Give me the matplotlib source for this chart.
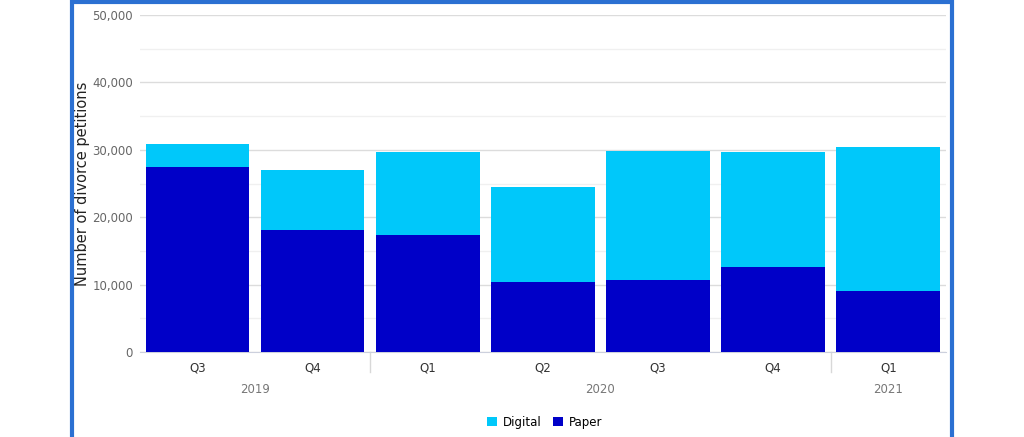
import numpy as np
import matplotlib.pyplot as plt
from matplotlib.patches import Rectangle
from matplotlib.ticker import FuncFormatter, MultipleLocator

quarters = ['Q3', 'Q4', 'Q1', 'Q2', 'Q3', 'Q4', 'Q1']
years = ['2019', '2020', '2021']
year_pos = [0.5, 3.5, 6.0]
totals = [30900, 27000, 29700, 24500, 29800, 29700, 30400]
paper = [27450, 18100, 17350, 10400, 10700, 12600, 9050]
digital = [t - p for t, p in zip(totals, paper)]

c_digital = '#00c8fa'
c_paper = '#0000c8'

fig = plt.figure(figsize=(10.24, 4.37), dpi=100)
ax = fig.add_axes([0.1367, 0.1945, 0.787, 0.771])

x = np.arange(len(quarters))
ax.bar(x, paper, width=0.9, color=c_paper, label='Paper', zorder=3)
ax.bar(x, digital, bottom=paper, width=0.9, color=c_digital, label='Digital', zorder=3)

ax.set_xlim(-0.5, 6.5)
ax.set_ylim(0, 50000)
ax.yaxis.set_major_locator(MultipleLocator(10000))
ax.yaxis.set_minor_locator(MultipleLocator(5000))
ax.yaxis.set_major_formatter(FuncFormatter(lambda v, p: f'{int(v):,}'))
ax.grid(axis='y', which='major', color='#dcdcdc', linewidth=1, zorder=0)
ax.grid(axis='y', which='minor', color='#f0f0f0', linewidth=1, zorder=0)

for s in ['top', 'right', 'left']:
    ax.spines[s].set_visible(False)
ax.spines['bottom'].set_color('#ccd0dd')

ax.set_xticks(x)
ax.set_xticklabels(quarters, fontsize=8.5, color='#333333')
ax.tick_params(axis='x', length=0, pad=7)
ax.tick_params(axis='y', which='both', length=0, labelsize=8.5, labelcolor='#666666', pad=5)
ax.set_ylabel('Number of divorce petitions', fontsize=10.5, color='#222222', labelpad=2)

trans = ax.get_xaxis_transform()
for yr, xp in zip(years, year_pos):
    ax.text(xp, -0.11, yr, transform=trans, ha='center', va='center',
            fontsize=8.5, color='#777777')
for sep in [1.5, 5.5]:
    ax.plot([sep, sep], [0, -0.06], transform=trans, color='#d8d8d8',
            linewidth=1, clip_on=False)

h, l = ax.get_legend_handles_labels()
fig.legend(h[::-1], l[::-1], loc='center', bbox_to_anchor=(0.532, 0.034), ncol=2,
           frameon=False, fontsize=8.5, handlelength=0.8, handleheight=0.8,
           handletextpad=0.5, columnspacing=1.0)

fig.patches.append(Rectangle((72 / 1024, -0.05), 880 / 1024, 1.05 - 2 / 437,
                             transform=fig.transFigure, fill=False,
                             edgecolor='#2b70d2', linewidth=3))

fig.savefig('out.png', dpi=100)
